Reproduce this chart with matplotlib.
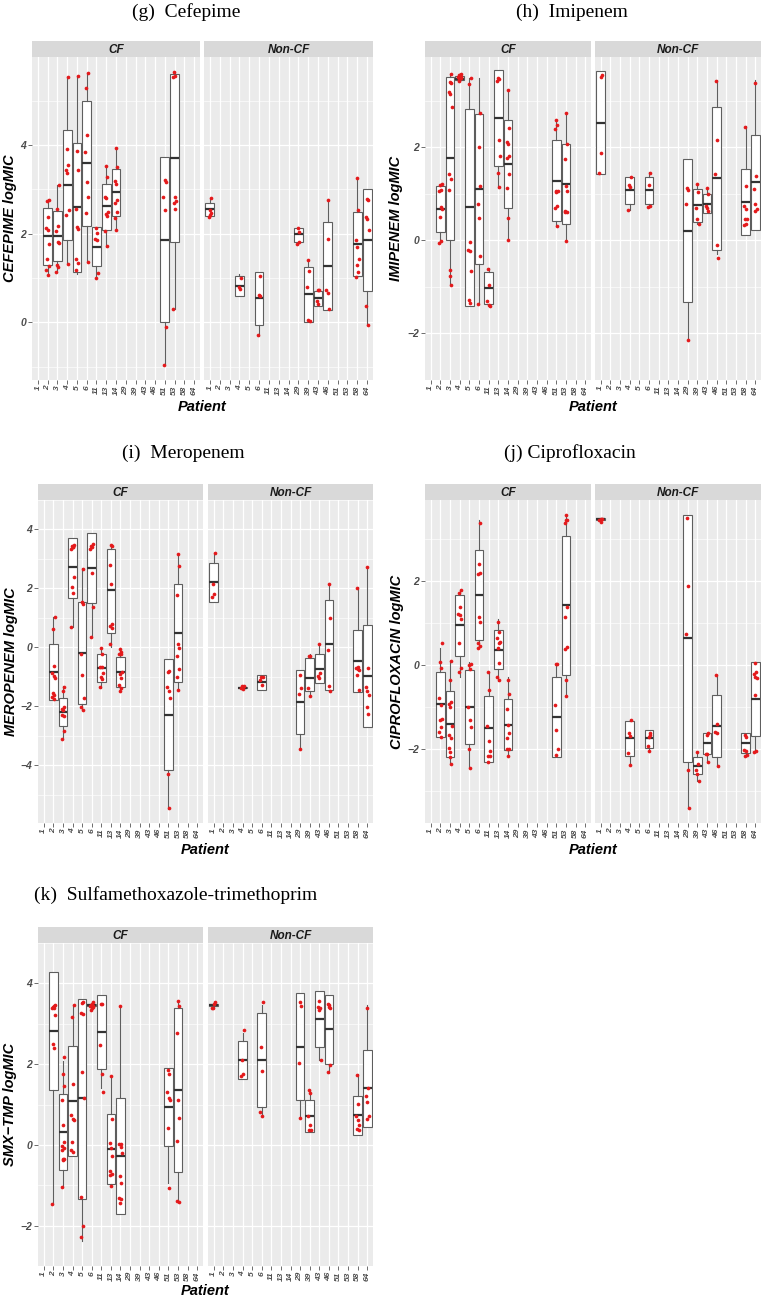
import numpy as np
import matplotlib.pyplot as plt

plt.rcParams['font.family'] = ['Liberation Sans', 'DejaVu Sans']

PATIENTS = ["1", "2", "3", "4", "5", "6", "11", "13", "14", "29", "39", "43", "46", "51", "53", "58", "64"]
GROUPS = ["CF", "Non-CF"]

# box stats per patient: (whisker low, q1, median, q3, whisker high)
CEF_CF_BOX = {"2": (1.08, 1.30, 1.94, 2.58, 2.78), "3": (1.13, 1.38, 1.94, 2.51, 3.10),
              "4": (1.33, 1.85, 3.11, 4.35, 5.54), "5": (1.10, 1.14, 2.61, 4.04, 5.57),
              "6": (1.36, 2.17, 3.59, 4.99, 5.64), "11": (0.99, 1.27, 1.70, 2.15, 2.15),
              "13": (1.70, 2.09, 2.62, 3.13, 3.56), "14": (2.08, 2.41, 2.95, 3.47, 3.94),
              "51": (-0.97, 0.00, 1.87, 3.74, 3.74), "53": (0.31, 1.82, 3.71, 5.60, 5.66)}
CEF_CF_PTS = {"2": [2.77, 2.75, 2.39, 2.13, 2.08, 1.77, 1.42, 1.27, 1.18, 1.08],
              "3": [3.10, 2.57, 2.17, 2.06, 1.81, 1.79, 1.30, 1.25, 1.13],
              "4": [5.53, 3.92, 3.55, 3.43, 3.37, 2.53, 2.42, 1.32],
              "5": [5.56, 3.86, 3.43, 2.55, 2.15, 2.10, 1.44, 1.33, 1.19],
              "6": [5.62, 5.30, 4.23, 3.85, 3.16, 2.83, 2.47, 1.36],
              "11": [2.13, 2.02, 1.89, 1.87, 1.11, 1.00],
              "13": [3.53, 3.28, 2.83, 2.81, 2.49, 2.45, 2.40, 2.06, 1.72],
              "14": [3.94, 3.51, 3.19, 3.12, 2.76, 2.70, 2.49, 2.36, 2.08],
              "51": [3.21, 3.18, 2.83, 2.53, -0.10, -0.97],
              "53": [5.65, 5.56, 5.53, 2.83, 2.73, 2.70, 2.57, 0.31]}
CEF_NCF_BOX = {"1": (2.41, 2.41, 2.55, 2.70, 2.81), "4": (0.59, 0.59, 0.82, 1.05, 1.09),
               "6": (-0.30, -0.05, 0.55, 1.14, 1.14), "29": (1.77, 1.81, 1.99, 2.14, 2.14),
               "39": (0.00, 0.00, 0.63, 1.26, 1.40), "43": (0.38, 0.38, 0.55, 0.70, 0.76),
               "46": (0.27, 0.27, 1.28, 2.26, 2.79), "58": (1.02, 1.05, 1.78, 2.49, 3.28),
               "64": (-0.05, 0.70, 1.85, 3.02, 3.02)}
CEF_NCF_PTS = {"1": [2.81, 2.53, 2.47, 2.39, 2.43], "4": [1.00, 0.79, 0.75],
               "6": [1.05, 0.61, 0.59, -0.29], "29": [2.14, 2.04, 1.77, 1.81],
               "39": [1.40, 1.17, 0.79, 0.05, 0.02], "43": [0.74, 0.74, 0.48, 0.42],
               "46": [2.77, 1.88, 0.72, 0.67, 0.31],
               "58": [3.26, 2.53, 1.85, 1.70, 1.42, 1.29, 1.14, 1.02],
               "64": [2.79, 2.76, 2.38, 2.34, 2.08, 0.36, -0.05]}

IMI_CF_BOX = {"2": (-0.05, 0.18, 0.67, 1.16, 1.22), "3": (-0.96, 0.00, 1.77, 3.51, 3.58),
              "4": (3.43, 3.45, 3.47, 3.53, 3.58), "5": (-1.42, -1.42, 0.71, 2.83, 3.49),
              "6": (-1.37, -0.50, 1.11, 2.71, 3.49), "11": (-1.40, -1.37, -1.02, -0.69, -0.60),
              "13": (1.12, 1.60, 2.63, 3.65, 3.65), "14": (0.00, 0.69, 1.64, 2.58, 3.23),
              "51": (0.31, 0.42, 1.28, 2.15, 2.59), "53": (-0.02, 0.36, 1.22, 2.06, 2.74)}
IMI_CF_PTS = {"2": [1.21, 1.19, 1.09, 1.06, 0.71, 0.67, 0.50, -0.02, -0.05],
              "3": [3.58, 3.40, 3.38, 3.19, 3.15, 2.87, 1.42, 1.32, 1.08, -0.63, -0.76, -0.96],
              "4": [3.58, 3.55, 3.52, 3.50, 3.56, 3.48, 3.45, 3.50, 3.43],
              "5": [3.49, 3.37, -0.03, -0.20, -0.23, -0.66, -1.29, -1.35],
              "6": [2.74, 2.01, 1.16, 0.79, 0.48, -0.33, -1.36],
              "11": [-0.61, -0.95, -1.31, -1.39, -1.40],
              "13": [3.49, 3.47, 3.43, 2.15, 1.82, 1.45, 1.14],
              "14": [3.23, 2.41, 2.11, 2.06, 1.82, 1.78, 1.42, 1.12, 0.48, 0.00],
              "51": [2.58, 2.47, 2.39, 1.06, 1.06, 1.05, 0.73, 0.69, 0.31],
              "53": [2.74, 2.08, 1.75, 1.16, 1.06, 0.63, 0.60, 0.61, -0.02]}
IMI_NCF_BOX = {"1": (1.43, 1.43, 2.53, 3.63, 3.63), "4": (0.66, 0.79, 1.08, 1.37, 1.37),
               "6": (0.71, 0.79, 1.08, 1.37, 1.47), "29": (-2.15, -1.32, 0.21, 1.74, 1.74),
               "39": (0.35, 0.39, 0.75, 1.10, 1.23), "43": (0.59, 0.59, 0.79, 1.00, 1.14),
               "46": (-0.30, -0.21, 1.33, 2.87, 3.45), "58": (0.11, 0.11, 0.83, 1.54, 2.46),
               "64": (0.23, 0.23, 1.25, 2.26, 3.45)}
IMI_NCF_PTS = {"1": [3.55, 3.52, 1.88, 1.44], "4": [1.37, 1.20, 1.14, 0.65],
               "6": [1.45, 1.20, 0.74, 0.71], "29": [1.12, 1.09, 0.78, -2.15],
               "39": [1.22, 1.04, 0.69, 0.45, 0.35], "43": [1.13, 0.99, 0.74, 0.69, 0.64],
               "46": [3.42, 2.15, 1.42, -0.09, -0.38],
               "58": [2.44, 1.16, 0.73, 0.67, 0.46, 0.45, 0.36, 0.32],
               "64": [3.38, 1.39, 1.11, 0.79, 0.67, 0.63]}

MER_CF_BOX = {"2": (-1.79, -1.79, -0.84, 0.10, 1.03), "3": (-3.10, -2.67, -2.19, -1.71, -1.31),
              "4": (0.68, 1.69, 2.71, 3.70, 3.70), "5": (-2.14, -1.93, -0.20, 1.53, 2.70),
              "6": (0.34, 1.51, 2.70, 3.89, 3.89), "11": (-1.37, -1.18, -0.71, -0.24, -0.02),
              "13": (0.00, 0.50, 1.93, 3.33, 3.50), "14": (-1.47, -1.34, -0.83, -0.33, -0.03),
              "51": (-5.49, -4.17, -2.28, -0.41, -0.41), "53": (-1.46, -1.18, 0.49, 2.15, 3.18)}
MER_CF_PTS = {"2": [1.03, 0.63, -0.63, -0.86, -0.97, -1.04, -1.55, -1.61, -1.67, -1.76],
              "3": [-1.34, -1.47, -2.01, -2.09, -2.14, -2.33, -2.30, -2.83, -3.10],
              "4": [3.48, 3.45, 3.39, 3.34, 3.42, 2.39, 2.06, 1.85, 0.68],
              "5": [2.67, 1.53, 1.46, -0.22, -0.94, -1.71, -2.01, -2.14],
              "6": [3.50, 3.45, 3.39, 3.34, 2.54, 1.37, 0.34],
              "11": [-0.03, -0.24, -0.67, -0.67, -0.86, -1.01, -1.07, -1.35],
              "13": [3.48, 3.45, 2.78, 2.15, 0.79, 0.73, 0.66, 0.10],
              "14": [-0.04, -0.17, -0.22, -0.24, -0.83, -0.89, -1.04, -1.29, -1.39, -1.47],
              "51": [-0.84, -0.81, -1.34, -1.47, -1.71, -4.30, -5.45],
              "53": [3.18, 2.76, 1.77, 0.10, -0.03, -0.28, -0.73, -1.00, -1.46]}
MER_NCF_BOX = {"1": (1.55, 1.55, 2.21, 2.86, 3.20), "4": (-1.40, -1.39, -1.37, -1.35, -1.31),
               "6": (-1.43, -1.43, -1.16, -0.94, -0.94), "29": (-3.45, -2.94, -1.86, -0.78, -0.78),
               "39": (-1.64, -1.47, -1.05, -0.36, -0.24), "43": (-1.20, -1.20, -0.72, -0.24, 0.12),
               "46": (-1.47, -1.44, 0.10, 1.60, 2.17), "58": (-1.53, -1.53, -0.47, 0.60, 2.04),
               "64": (-2.69, -2.69, -0.97, 0.76, 2.73)}
MER_NCF_PTS = {"1": [3.20, 2.15, 1.80, 1.72], "4": [-1.31, -1.31, -1.40, -1.37],
               "6": [-0.99, -1.02, -1.29, -1.12], "29": [-0.93, -1.39, -1.59, -3.45],
               "39": [-0.28, -0.30, -1.39, -1.64], "43": [0.10, -0.86, -0.97, -1.04],
               "46": [2.15, 1.00, -0.10, -1.31, -1.47],
               "58": [2.03, -0.65, -0.70, -0.73, -0.76, -0.95, -1.45],
               "64": [2.73, -0.70, -1.36, -1.47, -1.61, -2.01, -2.27]}

CIP_CF_BOX = {"2": (-1.71, -1.71, -0.94, -0.18, 0.41), "3": (-2.35, -2.19, -1.41, -0.63, 0.10),
              "4": (-0.29, 0.20, 0.94, 1.67, 1.79), "5": (-2.45, -1.89, -1.00, -0.12, 0.06),
              "6": (0.40, 0.58, 1.65, 2.72, 3.45), "11": (-2.30, -2.30, -1.51, -0.75, -0.17),
              "13": (-0.39, -0.11, 0.35, 0.82, 1.09), "14": (-2.16, -2.03, -1.42, -0.80, -0.30),
              "51": (-2.19, -2.19, -1.25, -0.30, 0.02), "53": (-0.74, -0.25, 1.42, 3.07, 3.56)}
CIP_CF_PTS = {"2": [0.51, 0.07, -0.07, -0.79, -0.96, -1.28, -1.30, -1.47, -1.59, -1.71],
              "3": [0.10, -0.35, -0.88, -0.92, -1.01, -1.46, -1.67, -1.75, -1.97, -2.07, -2.19, -2.35],
              "4": [1.77, 1.71, 1.38, 1.22, 1.18, 1.09, 0.51, -0.07, -0.17],
              "5": [0.03, -0.01, -0.10, -1.01, -1.30, -1.47, -2.00, -2.45],
              "6": [3.38, 2.39, 2.19, 2.16, 1.14, 1.01, 0.51, 0.45, 0.40],
              "11": [-0.17, -0.60, -1.45, -1.81, -2.04, -2.16, -2.16, -2.30],
              "13": [1.02, 0.77, 0.63, 0.51, 0.55, 0.41, 0.05, -0.30, -0.35],
              "14": [-0.35, -0.70, -1.06, -1.43, -1.63, -1.75, -1.99, -1.99, -2.16],
              "51": [0.02, 0.02, -0.96, -1.54, -2.01, -2.15],
              "53": [3.56, 3.45, 3.38, 3.44, 1.38, 1.14, 0.43, 0.37, -0.35, -0.74]}
CIP_NCF_BOX = {"1": (3.40, 3.44, 3.46, 3.48, 3.48), "4": (-2.38, -2.17, -1.75, -1.34, -1.30),
               "6": (-2.05, -1.97, -1.75, -1.54, -1.54), "29": (-3.41, -2.32, 0.63, 3.57, 3.57),
               "39": (-2.75, -2.60, -2.40, -2.18, -2.07), "43": (-2.30, -2.11, -1.85, -1.62, -1.62),
               "46": (-2.40, -2.20, -1.46, -0.71, -0.23), "58": (-2.16, -2.09, -1.85, -1.63, -1.63),
               "64": (-2.07, -1.69, -0.81, 0.07, 0.07)}
CIP_NCF_PTS = {"1": [3.46, 3.47, 3.40, 3.44], "4": [-1.30, -1.63, -1.70, -2.10, -2.38],
               "6": [-1.63, -1.71, -1.66, -1.93, -2.05], "29": [3.48, 1.88, 0.74, -2.50, -3.41],
               "39": [-2.07, -2.35, -2.50, -2.60, -2.75], "43": [-1.66, -1.63, -2.11, -2.12, -2.30],
               "46": [-0.23, -1.41, -1.59, -1.63, -2.40],
               "58": [-1.66, -1.71, -2.03, -2.04, -2.15, -2.16],
               "64": [0.05, -0.17, -0.21, -0.29, -0.31, -0.71, -2.05, -2.07]}

SMX_CF_BOX = {"2": (-1.46, 1.36, 2.82, 4.27, 4.27), "3": (-1.05, -0.63, 0.32, 1.25, 2.07),
              "4": (-0.27, -0.27, 1.09, 2.44, 3.46), "5": (-2.38, -1.33, 1.15, 3.61, 3.61),
              "6": (3.38, 3.44, 3.46, 3.48, 3.53), "11": (1.42, 1.89, 2.79, 3.70, 3.70),
              "13": (-1.02, -0.97, -0.10, 0.77, 1.71), "14": (-1.70, -1.70, -0.27, 1.17, 3.43),
              "51": (-0.95, -0.02, 0.95, 1.91, 1.91), "53": (-1.42, -0.68, 1.36, 3.38, 3.57)}
SMX_CF_PTS = {"2": [3.46, 3.42, 3.40, 3.38, 3.44, 3.22, 2.51, 2.39, -1.46],
              "3": [2.18, 1.76, 1.47, 1.12, 0.48, 0.08, -0.03, -0.07, -0.12, -0.35, -0.37, -0.36, -1.05],
              "4": [3.46, 3.17, 1.50, 0.75, 0.65, 0.61, 0.07, -0.17, -0.12],
              "5": [3.55, 3.52, 3.23, 3.27, 1.80, 1.16, -1.29, -2.02, -2.27],
              "6": [3.53, 3.47, 3.50, 3.44, 3.38, 3.42, 3.35, 3.45],
              "11": [3.50, 3.50, 2.48, 1.76, 1.31],
              "13": [1.71, 0.63, 0.05, -0.08, -0.27, -0.65, -0.72, -0.75, -1.02],
              "14": [3.43, 0.03, 0.02, -0.05, -0.21, -0.78, -0.95, -1.31, -1.35, -1.44],
              "51": [1.85, 1.75, 1.31, 1.16, 1.11, 0.41, -1.08],
              "53": [3.57, 3.44, 2.78, 1.12, 0.67, 0.09, -1.42, -1.40]}
SMX_NCF_BOX = {"1": (3.38, 3.44, 3.46, 3.48, 3.53), "4": (1.63, 1.63, 2.10, 2.57, 2.78),
               "6": (0.69, 0.94, 2.11, 3.27, 3.46), "29": (0.67, 1.10, 2.43, 3.75, 3.75),
               "39": (0.31, 0.31, 0.72, 1.11, 1.36), "43": (2.09, 2.42, 3.12, 3.82, 3.82),
               "46": (1.79, 2.01, 2.86, 3.71, 3.71), "58": (0.24, 0.24, 0.73, 1.22, 1.76),
               "64": (0.45, 0.45, 1.40, 2.35, 3.46)}
SMX_NCF_PTS = {"1": [3.53, 3.40, 3.50, 3.38], "4": [2.84, 2.10, 1.76, 1.70],
               "6": [3.53, 2.43, 1.84, 0.82, 0.72], "29": [3.55, 3.43, 2.03, 0.67],
               "39": [1.35, 1.29, 0.71, 0.48, 0.38, 0.36], "43": [3.57, 3.40, 3.42, 3.34, 2.09],
               "46": [3.46, 3.38, 3.48, 3.42, 1.99, 1.80],
               "58": [1.74, 1.01, 0.71, 0.61, 0.50, 0.39, 0.37],
               "64": [3.38, 1.40, 1.20, 1.06, 0.71, 0.63]}

TITLES = ["(g)  Cefepime", "(h)  Imipenem", "(i)  Meropenem", "(j) Ciprofloxacin",
          "(k)  Sulfamethoxazole-trimethoprim"]
YLABELS = ["CEFEPIME logMIC", "IMIPENEM logMIC", "MEROPENEM logMIC", "CIPROFLOXACIN logMIC",
           "SMX\u2212TMP logMIC"]
YTICKS = [[0, 2, 4], [-2, 0, 2], [-4, -2, 0, 2, 4], [-2, 0, 2], [-2, 0, 2, 4]]
DATA = [(CEF_CF_BOX, CEF_CF_PTS, CEF_NCF_BOX, CEF_NCF_PTS),
        (IMI_CF_BOX, IMI_CF_PTS, IMI_NCF_BOX, IMI_NCF_PTS),
        (MER_CF_BOX, MER_CF_PTS, MER_NCF_BOX, MER_NCF_PTS),
        (CIP_CF_BOX, CIP_CF_PTS, CIP_NCF_BOX, CIP_NCF_PTS),
        (SMX_CF_BOX, SMX_CF_PTS, SMX_NCF_BOX, SMX_NCF_PTS)]

# pixel layout: (left facet x0, x1, right facet x0, x1, strip top, plot top, plot bottom,
#                title x, title y, ylabel x, xlabel y)
LAYOUT = [(32, 200, 204, 373, 41, 57, 380, 186, 12, 10, 407),
          (425, 591, 595, 761, 41, 57, 380, 572, 12, 396, 407),
          (38, 203, 208, 373, 484, 500, 823, 183, 453, 11, 850),
          (425, 591, 595, 761, 484, 500, 823, 570, 453, 397, 850),
          (38, 203, 208, 373, 927, 943, 1266, 176, 895, 10, 1291)]

W, H = 764, 1299
PANEL_BG = "#EBEBEB"
STRIP_BG = "#D9D9D9"
BOX_EDGE = "#5E5E5E"
POINT_COLOR = "#E41A1C"
TICK_COLOR = "#4D4D4D"
JITTER = [-0.10, 0.12, -0.03, 0.07, -0.14, 0.02, 0.15, -0.07, 0.09, -0.12, 0.04, -0.01, 0.11]

fig = plt.figure(figsize=(W / 100, H / 100), dpi=100)


def px_axes(x0, x1, y0, y1):
    return fig.add_axes([x0 / W, 1 - y1 / H, (x1 - x0) / W, (y1 - y0) / H])


def panel_ylim(groups):
    vals = []
    for boxes, pts in groups:
        for b in boxes.values():
            vals.extend(b)
        for p in pts.values():
            vals.extend(p)
    lo, hi = min(vals), max(vals)
    pad = 0.05 * (hi - lo)
    return lo - pad, hi + pad


def draw_facet(ax, boxes, pts, ylim, yticks, left):
    ax.set_facecolor(PANEL_BG)
    ax.set_xlim(-0.6, len(PATIENTS) - 0.4)
    ax.set_ylim(ylim)
    ax.set_xticks(range(len(PATIENTS)))
    ax.set_xticklabels(PATIENTS, rotation=90, fontsize=6, fontweight="bold",
                       fontstyle="italic", color=TICK_COLOR)
    ax.set_yticks(yticks)
    step = yticks[1] - yticks[0]
    minor = [t - step / 2 for t in yticks] + [yticks[-1] + step / 2]
    ax.set_yticks(minor, minor=True)
    ax.grid(which="major", color="white", linewidth=0.9)
    ax.grid(which="minor", axis="y", color="white", linewidth=0.45)
    ax.set_axisbelow(True)
    for s in ax.spines.values():
        s.set_visible(False)
    ax.tick_params(which="minor", length=0)
    ax.tick_params(which="major", length=2.7, width=0.5, color="#333333", pad=1.5)
    if left:
        ax.set_yticklabels([str(t).replace("-", "\u2212") for t in yticks], fontsize=7.5,
                           fontweight="bold", fontstyle="italic", color=TICK_COLOR)
    else:
        ax.tick_params(axis="y", length=0, labelleft=False)

    keys = list(boxes.keys())
    stats = [dict(whislo=boxes[k][0], q1=boxes[k][1], med=boxes[k][2], q3=boxes[k][3],
                  whishi=boxes[k][4], fliers=[]) for k in keys]
    ax.bxp(stats, positions=[PATIENTS.index(k) for k in keys], widths=0.9, patch_artist=True,
           showcaps=False, showfliers=False, manage_ticks=False,
           boxprops=dict(facecolor="white", edgecolor=BOX_EDGE, linewidth=0.8),
           whiskerprops=dict(color=BOX_EDGE, linewidth=0.8),
           medianprops=dict(color="#333333", linewidth=1.6))
    for k, ys in pts.items():
        xs = [PATIENTS.index(k) + JITTER[(j + len(k)) % len(JITTER)] for j in range(len(ys))]
        ax.scatter(xs, ys, s=7, color=POINT_COLOR, linewidths=0, zorder=3)


for title, ylabel, yticks, data, lay in zip(TITLES, YLABELS, YTICKS, DATA, LAYOUT):
    lx0, lx1, rx0, rx1, st, pt, pb, tx, ty, ylx, xly = lay
    cf_box, cf_pts, ncf_box, ncf_pts = data
    ylim = panel_ylim([(cf_box, cf_pts), (ncf_box, ncf_pts)])
    for (x0, x1), boxes, pts, name, left in [((lx0, lx1), cf_box, cf_pts, GROUPS[0], True),
                                               ((rx0, rx1), ncf_box, ncf_pts, GROUPS[1], False)]:
        ax = px_axes(x0, x1, pt, pb)
        draw_facet(ax, boxes, pts, ylim, yticks, left)
        sax = px_axes(x0, x1, st, pt)
        sax.set_facecolor(STRIP_BG)
        sax.set_xticks([])
        sax.set_yticks([])
        for s in sax.spines.values():
            s.set_visible(False)
        sax.text(0.5, 0.45, name, transform=sax.transAxes, ha="center", va="center",
                 fontsize=8.5, fontweight="bold", fontstyle="italic", color="#1A1A1A")
    fig.text(tx / W, 1 - ty / H, title, ha="center", va="center", fontsize=14,
             family="Liberation Serif", color="black")
    fig.text(ylx / W, 1 - (pt + pb) / 2 / H, ylabel, rotation=90, ha="center", va="center",
             fontsize=10.5, fontweight="bold", fontstyle="italic", color="black")
    fig.text((lx0 + rx1) / 2 / W, 1 - xly / H, "Patient", ha="center", va="center",
             fontsize=10.5, fontweight="bold", fontstyle="italic", color="black")

fig.savefig("out.png", dpi=100)
